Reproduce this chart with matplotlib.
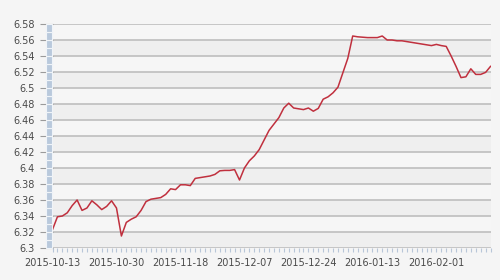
import matplotlib
matplotlib.use("Agg")
import matplotlib.pyplot as plt
import matplotlib.transforms as mtransforms
from matplotlib.patches import Rectangle
import numpy as np

# USD/CNY daily values (one per trading day)
values = [
    6.323, 6.339, 6.340, 6.344, 6.353, 6.360, 6.347, 6.350, 6.359, 6.354,
    6.348, 6.352, 6.359, 6.350, 6.315, 6.332, 6.336, 6.339, 6.347, 6.358,
    6.361, 6.362, 6.363, 6.367, 6.374, 6.373, 6.379, 6.379, 6.378, 6.387,
    6.388, 6.389, 6.390, 6.392, 6.3965, 6.397, 6.397, 6.398, 6.385, 6.400,
    6.409, 6.415, 6.423, 6.435, 6.447, 6.455, 6.463, 6.475, 6.481, 6.475,
    6.474, 6.473, 6.475, 6.471, 6.4745, 6.486, 6.489, 6.494, 6.501, 6.519,
    6.537, 6.565, 6.564, 6.5635, 6.563, 6.563, 6.563, 6.565, 6.560, 6.560,
    6.559, 6.559, 6.558, 6.557, 6.556, 6.555, 6.554, 6.553, 6.5545, 6.553,
    6.552, 6.540, 6.527, 6.513, 6.514, 6.524, 6.517, 6.517, 6.5195, 6.527,
]
tick_labels = ["2015-10-13", "2015-10-30", "2015-11-18", "2015-12-07",
               "2015-12-24", "2016-01-13", "2016-02-01"]
tick_index = [0, 13, 26, 39, 52, 65, 78]
y_ticks = [6.3, 6.32, 6.34, 6.36, 6.38, 6.4, 6.42, 6.44, 6.46, 6.48,
           6.5, 6.52, 6.54, 6.56, 6.58]
y_labels = ["6.3", "6.32", "6.34", "6.36", "6.38", "6.4", "6.42", "6.44",
            "6.46", "6.48", "6.5", "6.52", "6.54", "6.56", "6.58"]

W, H = 500, 280
fig = plt.figure(figsize=(W / 100, H / 100), dpi=100, facecolor="#f5f5f5")
left, right, top, bottom = 52.5, 491, 24, 248
ax = fig.add_axes([left / W, (H - bottom) / H, (right - left) / W, (bottom - top) / H])
ax.set_facecolor("#f6f6f6")

x = np.arange(len(values))
ax.set_xlim(0, 89.1)
ax.set_ylim(6.3, 6.58)

# alternating bands
for k in range(len(y_ticks) - 1):
    if k % 2 == 0:
        ax.axhspan(y_ticks[k], y_ticks[k + 1], color="#efefef", lw=0, zorder=0)
for yv in y_ticks:
    ax.axhline(yv, color="#c2c2c2", lw=1.3, zorder=1)

ax.plot(x, values, color="#c0303e", lw=1.1, zorder=3, solid_joinstyle="round")

for s in ax.spines.values():
    s.set_visible(False)

ax.set_yticks(y_ticks)
ax.set_yticklabels(y_labels, fontsize=7, color="#4a4a4a", family="DejaVu Sans")
ax.tick_params(axis="y", length=9.4, width=0.8, color="#9a9a9a", pad=3.5)

ax.set_xticks(tick_index)
ax.set_xticklabels(tick_labels, fontsize=7, color="#4a4a4a", family="DejaVu Sans")
ax.set_xticks(x, minor=True)
ax.tick_params(axis="x", which="major", length=3, width=0.8, color="#b8c6d8", pad=4.5)
ax.tick_params(axis="x", which="minor", length=3, width=0.8, color="#b8c6d8")

# segmented vertical bar on the left
trans = mtransforms.blended_transform_factory(ax.transAxes, ax.transData)
bar_w = 6.5 / (right - left)
seg = 0.01
for k in range(28):
    y0 = 6.3 + k * seg
    ax.add_patch(Rectangle((-7 / (right - left), y0), bar_w, seg,
                           transform=trans, facecolor="#b9c9dc",
                           edgecolor="#f0f4f8", lw=0.8, clip_on=False, zorder=5))

fig.savefig("out.png", dpi=100, facecolor=fig.get_facecolor())
